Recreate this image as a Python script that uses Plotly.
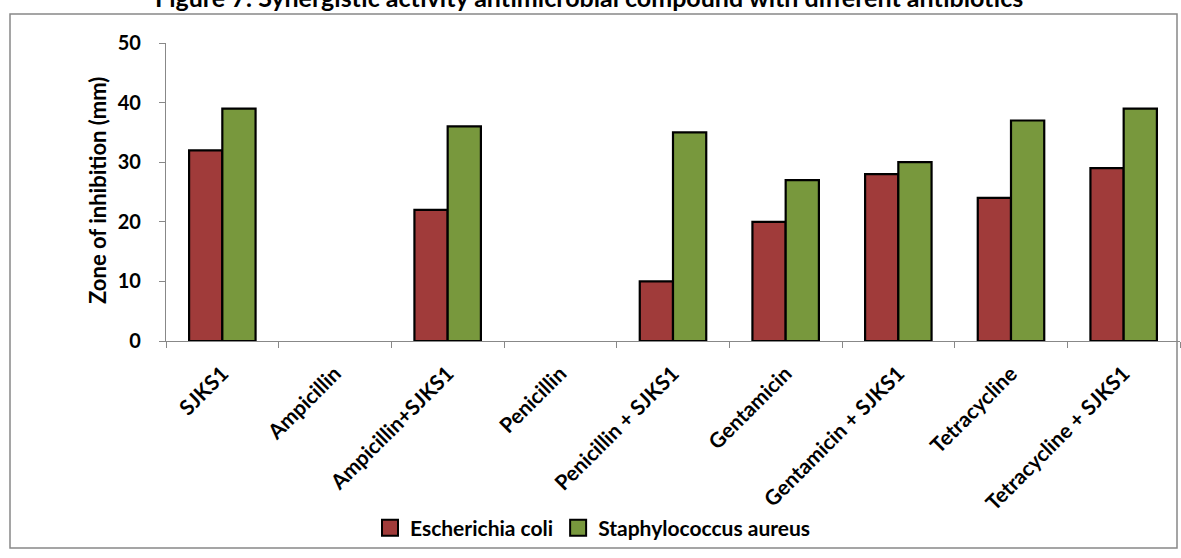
import plotly.graph_objects as go

categories = ["SJKS1", "Ampicillin", "Ampicillin+SJKS1", "Penicillin", "Penicillin + SJKS1",
              "Gentamicin", "Gentamicin + SJKS1", "Tetracycline", "Tetracycline + SJKS1"]
e_coli = [32, 0, 22, 0, 10, 20, 28, 24, 29]
s_aureus = [39, 0, 36, 0, 35, 27, 30, 37, 39]
y_ticks = [0, 10, 20, 30, 40, 50]

W, H = 1181, 558
L, R, T, B = 166, 1, 43, 217
pw, ph = W - L - R, H - T - B


def px(x):
    return (x - L) / pw


def py(y):
    return (H - B - y) / ph


FONT = "Lato"
RED = "#A03B3A"
GREEN = "#78983D"


def outline(values):
    # no outline on empty bars, so a zero value leaves no stub on the axis
    return [2.2 if v else 0 for v in values]


fig = go.Figure()
fig.add_trace(go.Bar(x=categories, y=e_coli, name="Escherichia coli", showlegend=False,
                     marker=dict(color=RED, line=dict(color="black", width=outline(e_coli)))))
fig.add_trace(go.Bar(x=categories, y=s_aureus, name="Staphylococcus aureus", showlegend=False,
                     marker=dict(color=GREEN, line=dict(color="black", width=outline(s_aureus)))))

# legend entries with square swatches
for name, col in [("Escherichia coli", RED), ("Staphylococcus aureus", GREEN)]:
    fig.add_trace(go.Scatter(x=[None], y=[None], mode="markers", name=name,
                             marker=dict(symbol="square", size=16, color=col,
                                         line=dict(color="black", width=2))))

fig.update_layout(
    width=W, height=H,
    margin=dict(l=L, r=R, t=T, b=B, pad=0),
    paper_bgcolor="white", plot_bgcolor="white",
    barmode="group", bargap=0.41, bargroupgap=0,
    font=dict(family=FONT, color="black", size=16),
    showlegend=True,
    legend=dict(orientation="h", x=px(593), xanchor="center", y=py(528), yanchor="middle",
                font=dict(family=FONT, size=21, weight="bold"), bgcolor="rgba(0,0,0,0)",
                itemwidth=30, traceorder="normal"),
    xaxis=dict(
        type="category", tickangle=-45, tickson="boundaries",
        ticks="outside", ticklen=6, tickcolor="#888888",
        showline=True, linecolor="#888888", linewidth=1.2,
        tickfont=dict(family=FONT, size=21, weight="bold"), ticklabelstandoff=11,
        showgrid=False,
    ),
    yaxis=dict(
        range=[0, 50], tickvals=y_ticks, ticks="outside", ticklen=6, tickcolor="#888888",
        showline=True, linecolor="#888888", linewidth=1.2, showgrid=False, zeroline=False,
        tickfont=dict(family=FONT, size=20, weight="bold"), ticklabelstandoff=14,
    ),
    shapes=[dict(type="rect", xref="paper", yref="paper",
                 x0=px(10), x1=px(1177), y0=py(548), y1=py(14),
                 line=dict(color="#888888", width=1.5), fillcolor="rgba(0,0,0,0)", layer="below")],
    annotations=[
        dict(text="Zone of inhibition (mm)", xref="paper", yref="paper",
             x=px(98), y=py(191), xanchor="center", yanchor="middle", textangle=-90,
             showarrow=False, font=dict(family=FONT, size=22, weight="bold")),
        dict(text="Figure 7: Synergistic activity antimicrobial compound with different antibiotics",
             xref="paper", yref="paper", x=px(589), y=py(-3), xanchor="center", yanchor="middle",
             showarrow=False, font=dict(family=FONT, size=25, weight="bold")),
    ],
)

fig.write_html("out.html")
